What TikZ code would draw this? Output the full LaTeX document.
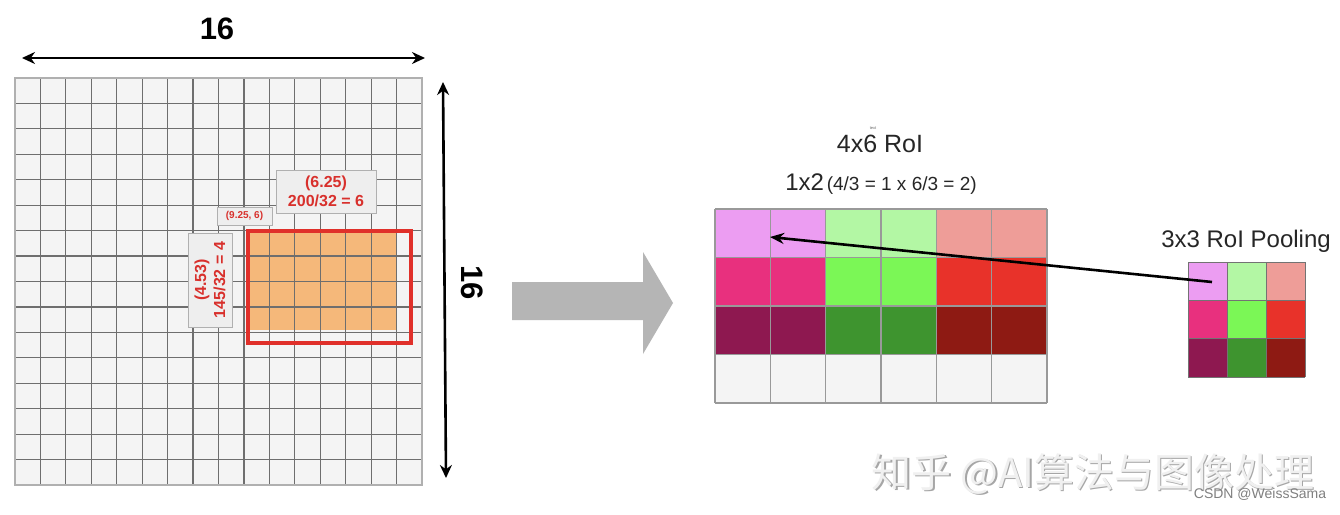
\documentclass[tikz,border=0pt]{standalone}
\usepackage{fontspec}
\setmainfont{Liberation Sans}
\newfontfamily\cjk{Noto Sans CJK SC}
\usetikzlibrary{arrows.meta}
\definecolor{cellgray}{HTML}{F4F4F4}
\definecolor{gridline}{HTML}{6E6E6E}
\definecolor{gridborder}{HTML}{B0B0B0}
\definecolor{orangefill}{HTML}{F5B87A}
\definecolor{roired}{HTML}{E0302A}
\definecolor{labred}{HTML}{D8302C}
\definecolor{labbg}{HTML}{EEEEEE}
\definecolor{arrowgray}{HTML}{B5B5B5}
\definecolor{cAa}{HTML}{EC9DF2}
\definecolor{cAb}{HTML}{B3F7A4}
\definecolor{cAc}{HTML}{EE9D98}
\definecolor{cBa}{HTML}{E8307E}
\definecolor{cBb}{HTML}{7BF756}
\definecolor{cBc}{HTML}{E8322A}
\definecolor{cCa}{HTML}{8E1850}
\definecolor{cCb}{HTML}{3E942F}
\definecolor{cCc}{HTML}{8E1A13}
\definecolor{cDa}{HTML}{F4F4F4}
\definecolor{cDb}{HTML}{F4F4F4}
\definecolor{cDc}{HTML}{F4F4F4}
\definecolor{rgridline}{HTML}{999999}
\tikzset{
  gline/.style={draw=gridline, line width=1.2pt},
  rline/.style={draw=rgridline, line width=1.3pt},
  labbox/.style={fill=labbg, draw=gridborder, line width=0.5pt, text=labred, align=center, inner sep=1pt},
  dimarrow/.style={{Stealth[length=13pt,width=12pt]}-{Stealth[length=13pt,width=12pt]}, line width=2.6pt},
  bigtext/.style={font=\bfseries\fontsize{31}{33}\selectfont},
  titletext/.style={font=\fontsize{25}{28}\selectfont, text=black!85},
}
\begin{document}
\begin{tikzpicture}[x=1pt,y=-1pt]
\useasboundingbox (0,0) rectangle (1340,514);
\fill[white] (0,0) rectangle (1340,514);

% ---- left 16x16 feature map ----
\fill[cellgray] (15,78) rectangle (422,485);
\fill[orangefill] (248,231) rectangle (396,330);
\foreach \i in {1,...,15} {
  \draw[gline] ({15+\i*25.4375},78) -- ({15+\i*25.4375},485);
  \draw[gline] (15,{78+\i*25.4375}) -- (422,{78+\i*25.4375});
}
\draw[draw=gridborder, line width=1.5pt] (15,78) rectangle (422,485);
\draw[draw=roired, line width=3.6pt] (248,231) rectangle (411,343);

% labels
\node[labbox, minimum width=100pt, minimum height=43pt, font=\bfseries\fontsize{16}{19}\selectfont] (wlab) at (326,191.5) {(6.25)\\200/32 = 6};
\node[labbox, minimum width=55pt, minimum height=18pt, font=\bfseries\fontsize{10}{12}\selectfont] (plab) at (244.5,216) {(9.25, 6)};
\node[labbox, rotate=90, minimum width=94pt, minimum height=44pt, font=\bfseries\fontsize{16}{19}\selectfont] (hlab) at (210,280) {(4.53)\\145/32 = 4};

% dimension arrows
\coordinate (tl) at (22,58);
\coordinate (tr) at (425,58);
\draw[dimarrow] (tl) -- (tr);
\node[bigtext] (topsixteen) at (217,29) {16};
\coordinate (rt) at (443,82);
\coordinate (rb) at (446,478);
\draw[dimarrow] (rt) -- (rb);
\node[bigtext, rotate=-90] (rightsixteen) at (472,283) {16};

% big gray arrow
\fill[arrowgray] (512,282) -- (643,282) -- (643,252) -- (673,303) -- (643,354) -- (643,320) -- (512,320) -- cycle;

% ---- 4x6 RoI ----
\foreach \r/\R in {0/A,1/B,2/C,3/D} {
  \foreach \k/\K in {0/a,1/a,2/b,3/b,4/c,5/c} {
    \fill[c\R\K] ({715+\k*55.333},{209+\r*48.5}) rectangle ++(55.333,48.5);
  }
}
\foreach \i in {0,...,6} {
  \draw[rline] ({715+\i*55.333},209) -- ({715+\i*55.333},403);
}
\foreach \i in {0,...,4} {
  \draw[rline] (715,{209+\i*48.5}) -- (1047,{209+\i*48.5});
}

\node[titletext] (roititle) at (880,144) {4x6 RoI};
\node[font=\fontsize{4}{4}\selectfont, text=black!60] (tiny) at (873,128) {text};
\node[text=black!85, anchor=center] (binsize) at (881,184) {{\fontsize{24}{26}\selectfont 1x2} {\fontsize{19}{21}\selectfont (4/3 = 1 x 6/3 = 2)}};

% ---- 3x3 pooling ----
\foreach \r/\R in {0/A,1/B,2/C} {
  \foreach \k/\K in {0/a,1/b,2/c} {
    \fill[c\R\K] ({1188+\k*39},{262+\r*38.333}) rectangle ++(39,38.333);
  }
}
\foreach \i in {0,...,3} {
  \draw[draw=black!55, line width=0.8pt] ({1188+\i*39},262) -- ({1188+\i*39},377);
  \draw[draw=black!55, line width=0.8pt] (1188,{262+\i*38.333}) -- (1305,{262+\i*38.333});
}
\node[font=\fontsize{24}{26}\selectfont, text=black!85] (pooltitle) at (1246,241) {3x3 RoI Pooling};

% pooling arrow
\coordinate (poolcell) at (1212,282);
\coordinate (roicell) at (770,237);
\draw[-{Stealth[length=14pt,width=11pt]}, line width=2.6pt] (poolcell) -- (roicell);

% watermark
\node[font=\cjk\fontsize{40}{44}\selectfont, text=black!35] (wmshadow) at (1094.5,475.5) {知乎 @AI算法与图像处理};
\node[font=\cjk\fontsize{40}{44}\selectfont, text=black!6] (wm) at (1093,474) {知乎 @AI算法与图像处理};
\node[font=\fontsize{14}{16}\selectfont, text=black!50] (csdn) at (1260,494) {CSDN @WeissSama};
\end{tikzpicture}
\end{document}
